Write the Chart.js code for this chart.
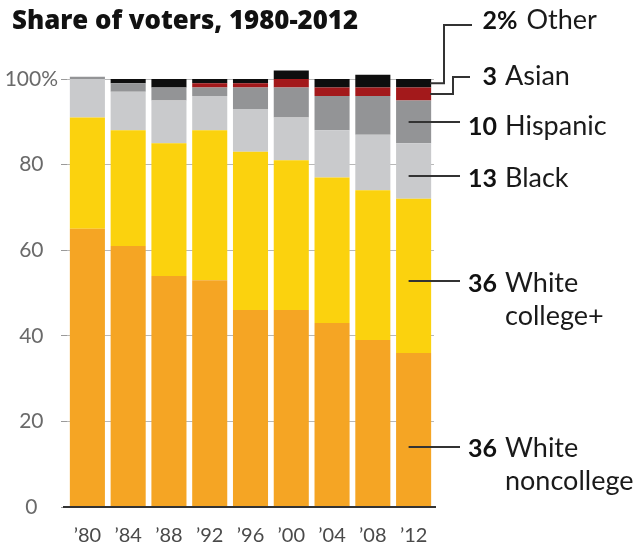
<!DOCTYPE html>
<html>
<head>
<meta charset="utf-8">
<title>Share of voters, 1980-2012</title>
<script src="https://cdn.jsdelivr.net/npm/chart.js@4/dist/chart.umd.min.js"></script>
<style>
  html, body { margin: 0; padding: 0; background: #ffffff; }
  #wrap { width: 640px; height: 544px; }
</style>
</head>
<body>
<div id="wrap"><canvas id="chart" width="640" height="544"></canvas></div>
<script>
// Election years
const years = ['’80', '’84', '’88', '’92', '’96', '’00', '’04', '’08', '’12'];

// Share of voters by group, percent
const whiteNoncollege = [65, 61, 54, 53, 46, 46, 43, 39, 36];
const whiteCollege    = [26, 27, 31, 35, 37, 35, 34, 35, 36];
const black           = [9, 9, 10, 8, 10, 10, 11, 13, 13];
const hispanic        = [0.5, 2, 3, 2, 5, 7, 8, 9, 10];
const asian           = [0, 0, 0, 1, 1, 2, 2, 2, 3];
const other           = [0, 1, 2, 1, 1, 2, 2, 3, 2];

// Y axis tick values
const yTicks = [0, 20, 40, 60, 80, 100];

const FONT = 'Lato, "Open Sans", sans-serif';
const TITLE_FONT = '"Open Sans", Lato, sans-serif';

const series = [
  { label: 'White noncollege', data: whiteNoncollege, color: '#F5A524' },
  { label: 'White college+',   data: whiteCollege,    color: '#FBD20E' },
  { label: 'Black',            data: black,           color: '#C9CACC' },
  { label: 'Hispanic',         data: hispanic,        color: '#939496' },
  { label: 'Asian',            data: asian,           color: '#A3191B' },
  { label: 'Other',            data: other,           color: '#0E0E0E' }
];

// Right-hand labels for the latest column, with their leader lines
const sideLabels = [
  { series: other,           suffix: '%', lines: ['Other'],              base: [29],       lineY: 25,  elbowX: 444, endX: 472 },
  { series: asian,           suffix: '',  lines: ['Asian'],              base: [85],       lineY: 77,  elbowX: 453, endX: 470 },
  { series: hispanic,        suffix: '',  lines: ['Hispanic'],           base: [135],      lineY: 122, endX: 460 },
  { series: black,           suffix: '',  lines: ['Black'],              base: [187],      lineY: 176, endX: 460 },
  { series: whiteCollege,    suffix: '',  lines: ['White', 'college+'],  base: [292, 325], lineY: 281, endX: 460 },
  { series: whiteNoncollege, suffix: '',  lines: ['White', 'noncollege'],base: [457, 490], lineY: 447, endX: 460 }
];

const order = [whiteNoncollege, whiteCollege, black, hispanic, asian, other];

const decorations = {
  id: 'decorations',
  afterDatasetsDraw(chart) {
    const ctx = chart.ctx;
    const yScale = chart.scales.y;
    const area = chart.chartArea;
    const last = years.length - 1;
    const bar = chart.getDatasetMeta(0).data[last];
    const barRight = bar.x + bar.width / 2;

    ctx.save();

    // baseline
    const y0 = yScale.getPixelForValue(0);
    ctx.strokeStyle = '#333333';
    ctx.lineWidth = 2;
    ctx.beginPath();
    ctx.moveTo(area.left - 4, y0);
    ctx.lineTo(area.right + 2, y0);
    ctx.stroke();

    // title, sized to span the plot width
    const title = 'Share of voters, 1980-2012';
    ctx.fillStyle = '#111111';
    ctx.font = '800 22px ' + TITLE_FONT;
    const w = ctx.measureText(title).width;
    const size = Math.min(26, 22 * 346 / w);
    ctx.font = '800 ' + size.toFixed(1) + 'px ' + TITLE_FONT;
    ctx.textAlign = 'left';
    ctx.textBaseline = 'alphabetic';
    ctx.fillText(title, 12, 29);

    // side labels
    sideLabels.forEach(lab => {
      const idx = order.indexOf(lab.series);
      let below = 0;
      for (let i = 0; i < idx; i++) below += order[i][last];
      const mid = yScale.getPixelForValue(below + lab.series[last] / 2);

      ctx.strokeStyle = '#333333';
      ctx.lineWidth = 2;
      ctx.beginPath();
      if (lab.elbowX) {
        ctx.moveTo(barRight - 1, mid);
        ctx.lineTo(lab.elbowX, mid);
        ctx.lineTo(lab.elbowX, lab.lineY);
        ctx.lineTo(lab.endX, lab.lineY);
      } else {
        ctx.moveTo(bar.x - 5, lab.lineY);
        ctx.lineTo(lab.endX, lab.lineY);
      }
      ctx.stroke();

      const numX = 497;
      ctx.fillStyle = '#111111';
      ctx.font = 'bold 25px ' + FONT;
      ctx.textAlign = 'right';
      ctx.fillText(String(lab.series[last]), numX, lab.base[0]);
      let nameX = numX + 8;
      if (lab.suffix) {
        ctx.textAlign = 'left';
        ctx.fillText(lab.suffix, numX, lab.base[0]);
        nameX = numX + ctx.measureText(lab.suffix).width + 9;
      }
      ctx.font = '27px ' + FONT;
      ctx.textAlign = 'left';
      ctx.fillStyle = '#1a1a1a';
      lab.lines.forEach((t, k) => ctx.fillText(t, nameX, lab.base[k]));
    });

    ctx.restore();
  }
};

new Chart(document.getElementById('chart'), {
  type: 'bar',
  data: {
    labels: years,
    datasets: series.map(s => ({
      label: s.label,
      data: s.data,
      backgroundColor: s.color,
      borderWidth: 0,
      categoryPercentage: 1,
      barPercentage: 0.86,
      clip: false
    }))
  },
  options: {
    responsive: false,
    devicePixelRatio: 1,
    animation: false,
    layout: { padding: { top: 79, right: 206, bottom: 0, left: 0 } },
    plugins: {
      legend: { display: false },
      tooltip: { enabled: false },
      title: { display: false }
    },
    scales: {
      x: {
        stacked: true,
        grid: { display: false },
        border: { display: false },
        ticks: {
          color: '#4a4a4a',
          font: { family: FONT, size: 20 },
          padding: 9,
          maxRotation: 0
        },
        afterFit(scale) { scale.height = 37; }
      },
      y: {
        stacked: true,
        min: 0,
        max: 100,
        afterBuildTicks(scale) { scale.ticks = yTicks.map(v => ({ value: v })); },
        grid: {
          color: '#b8b8b8',
          lineWidth: 1,
          tickLength: 6,
          tickColor: '#9a9a9a'
        },
        border: { display: false },
        ticks: {
          color: '#6a6a6a',
          font: { family: FONT, size: 21 },
          padding: 3,
          crossAlign: 'center',
          callback: v => (v === 100 ? '100%' : String(v))
        },
        afterFit(scale) { scale.width = 67; }
      }
    }
  },
  plugins: [decorations]
});
</script>
</body>
</html>
